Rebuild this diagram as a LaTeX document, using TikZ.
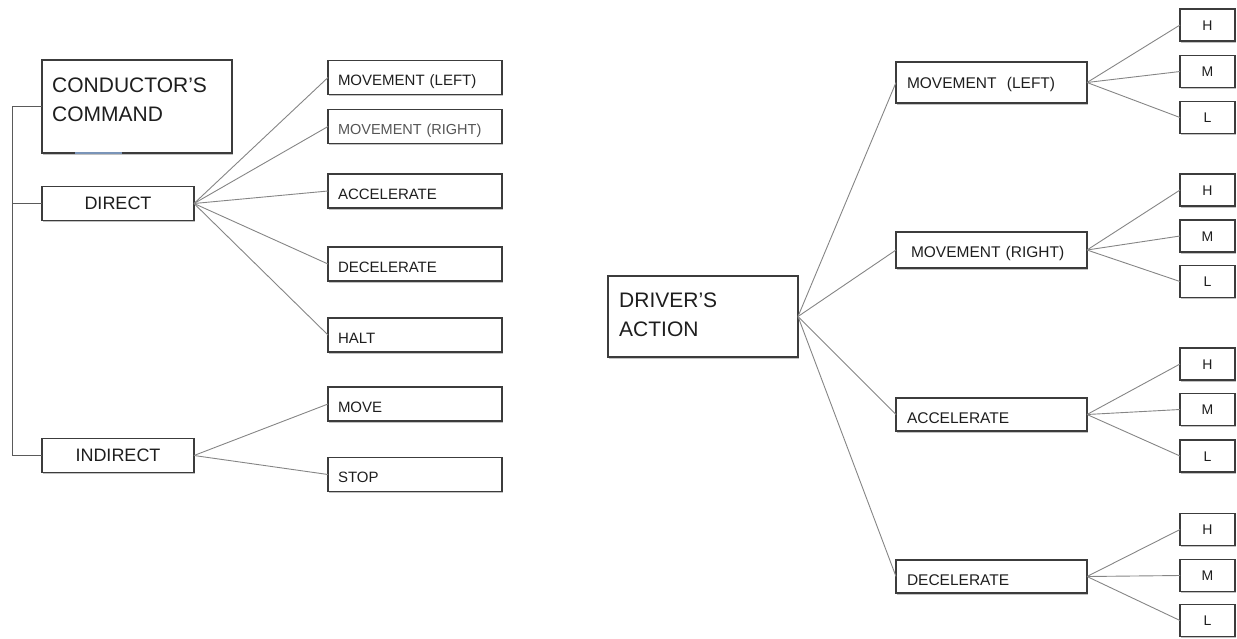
\documentclass[tikz,border=0pt]{standalone}
\usepackage{fontspec}
\setmainfont{Liberation Sans}
\usetikzlibrary{shadows,calc}
\newcommand{\fsz}[1]{\fontsize{#1}{#1}\selectfont}
\definecolor{boxc}{HTML}{3C3C3C}
\definecolor{linec}{HTML}{858585}
\definecolor{spinec}{HTML}{5A5A5A}
\definecolor{txtc}{HTML}{1E1E1E}
\definecolor{graytxt}{HTML}{555555}
\definecolor{bluemark}{HTML}{7A94B8}
\begin{document}
\begin{tikzpicture}[x=1pt,y=-1pt,
  boxbase/.style={draw=boxc, line width=1.1pt, fill=white, rectangle, outer sep=0pt, text=txtc,
    drop shadow={shadow xshift=0.8pt, shadow yshift=-1.8pt, opacity=0.4, fill=black!60}},
  bigbox/.style={boxbase, inner sep=0pt},
  bigtxt/.style={inner sep=0pt, align=left, text=txtc, font=\fontsize{21}{29}\selectfont},
  midbox/.style={boxbase, minimum width=152pt, minimum height=34pt, inner sep=0pt,
    font=\fsz{18}, text height=12.9pt, text depth=0pt},
  lkid/.style={boxbase, minimum height=34pt, text width=154pt, inner xsep=10pt, inner ysep=0pt,
    align=left, font=\fsz{15}, text height=16pt, text depth=0pt},
  rbox/.style={boxbase, text width=169pt, inner xsep=11pt, inner ysep=0pt,
    align=left, font=\fsz{15.5}, text depth=0pt},
  leaf/.style={boxbase, minimum width=55pt, minimum height=32pt, inner sep=0pt,
    font=\fsz{14}, text height=10pt, text depth=0pt},
  conn/.style={draw=linec, line width=0.9pt},
  spine/.style={draw=spinec, line width=0.9pt}]
\useasboundingbox (0,0) rectangle (1237,638);

% ---------- left tree ----------
\node[bigbox, minimum width=190pt, minimum height=93pt] (cc) at (137,106.5) {};
\node[bigtxt, anchor=north west] (cct) at ($(cc.north west)+(10,17.5)$) {CONDUCTOR’S\\COMMAND};
\draw[bluemark, line width=1.2pt] ($(cc.south west)+(33,0)$) -- ($(cc.south west)+(80,0)$);

\node[midbox] (direct) at (118,203.5) {DIRECT};
\node[midbox] (indirect) at (118,455.5) {INDIRECT};

\coordinate (sp) at (12,106.5);
\draw[spine] (cc.west) -- (sp) |- (indirect.west);
\draw[spine] (sp |- direct.west) -- (direct.west);

\node[lkid] (lml) at (415,77.5) {MOVEMENT (LEFT)};
\node[lkid, text=graytxt, font=\fsz{14.5}] (lmr) at (415,126.5) {MOVEMENT (RIGHT)};
\node[lkid] (lacc) at (415,191) {ACCELERATE};
\node[lkid] (ldec) at (415,264) {DECELERATE};
\node[lkid] (lhalt) at (415,335) {HALT};
\node[lkid] (lmove) at (415,404) {MOVE};
\node[lkid] (lstop) at (415,474.5) {STOP};

\foreach \k in {lml,lmr,lacc,ldec,lhalt}{\draw[conn] (direct.east) -- (\k.west);}
\foreach \k in {lmove,lstop}{\draw[conn] (indirect.east) -- (\k.west);}

% ---------- right tree ----------
\node[bigbox, minimum width=190pt, minimum height=81pt] (da) at (703,316.5) {};
\node[bigtxt, anchor=north west] (dat) at ($(da.north west)+(11,16.7)$) {DRIVER’S\\ACTION};

\node[rbox, minimum height=41pt, text height=11.7pt] (rml) at (991.5,82.5) {MOVEMENT~~(LEFT)};
\node[rbox, minimum height=36pt, text height=14.7pt] (rmr) at (991.5,250) {\hspace*{4pt}MOVEMENT (RIGHT)};
\node[rbox, minimum height=33pt, text height=18.7pt] (racc) at (991.5,414.5) {ACCELERATE};
\node[rbox, minimum height=33pt, text height=18.7pt] (rdec) at (991.5,576.5) {DECELERATE};

\foreach \k in {rml,rmr,racc,rdec}{\draw[conn] (da.east) -- (\k.west);}

\foreach \g/\pn/\yh/\ym/\yl in {1/rml/25/71.5/117.5, 2/rmr/190/236/281.5,
    3/racc/364/409.5/456, 4/rdec/529.5/575.5/620.5}{
  \node[leaf] (h\g) at (1207.5,\yh) {H};
  \node[leaf] (m\g) at (1207.5,\ym) {M};
  \node[leaf] (l\g) at (1207.5,\yl) {L};
  \draw[conn] (\pn.east) -- (h\g.west);
  \draw[conn] (\pn.east) -- (m\g.west);
  \draw[conn] (\pn.east) -- (l\g.west);
}
\end{tikzpicture}
\end{document}
